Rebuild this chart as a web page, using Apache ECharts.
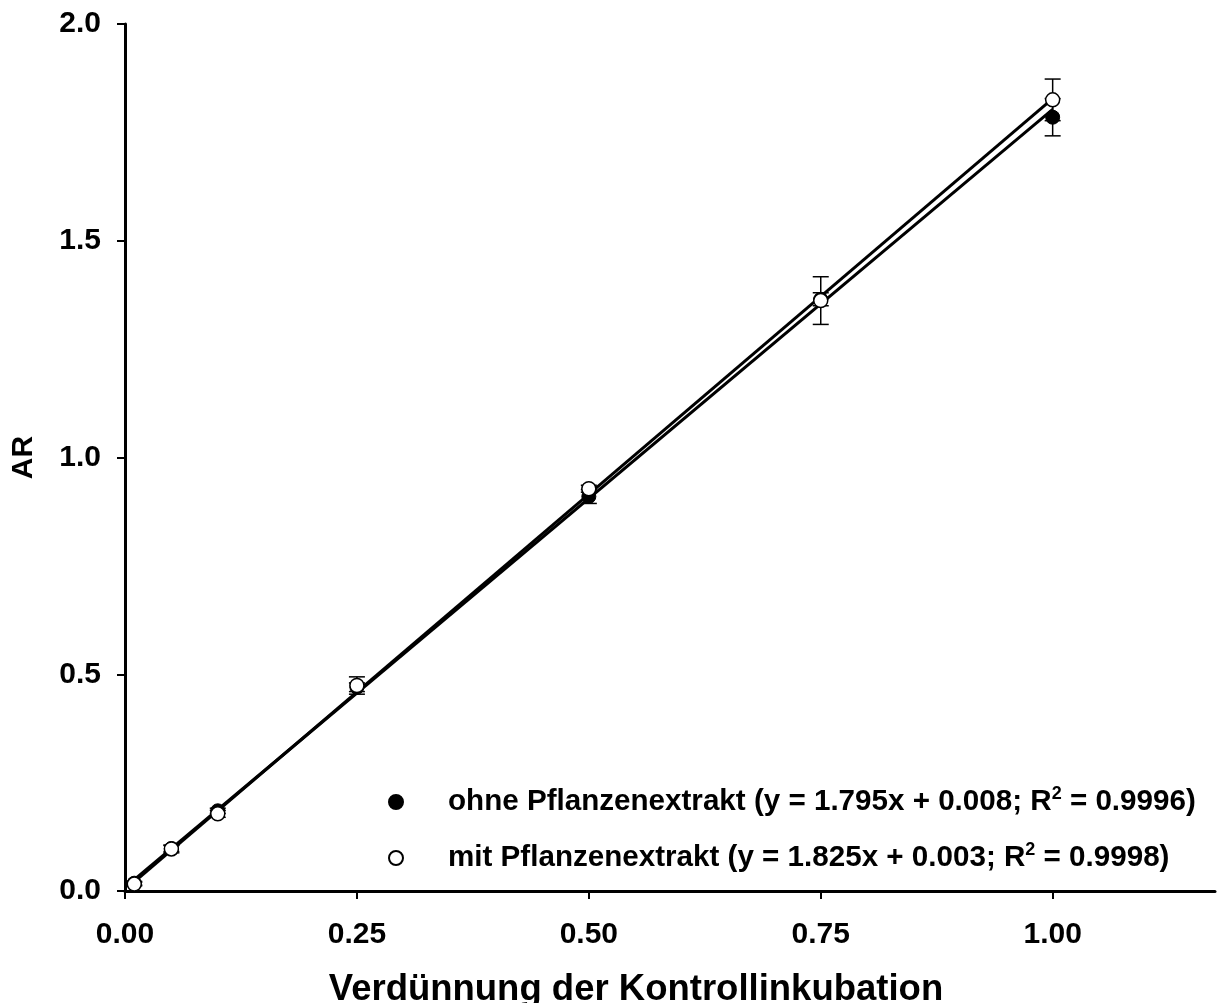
<!DOCTYPE html>
<html>
<head>
<meta charset="utf-8">
<script src="https://cdn.jsdelivr.net/npm/echarts@6/dist/echarts.min.js"></script>
<style>html,body{margin:0;padding:0;background:#fff}#c{width:1222px;height:1003px}</style>
</head>
<body>
<div id="c"></div>
<script>
// Dilution levels (x)
const xValues = [0.01, 0.05, 0.10, 0.25, 0.50, 0.75, 1.00];
// ohne Pflanzenextrakt (filled)
const ohneY  = [0.018, 0.098, 0.185, 0.470, 0.910, 1.365, 1.785];
const ohneSD = [0.004, 0.007, 0.006, 0.010, 0.016, 0.015, 0.043];
// mit Pflanzenextrakt (hollow)
const mitY   = [0.016, 0.097, 0.178, 0.474, 0.928, 1.362, 1.825];
const mitSD  = [0.004, 0.009, 0.008, 0.020, 0.008, 0.055, 0.048];
// regression lines (endpoints as drawn)
const ohneFit = [[0.01, 0.026], [1.00, 1.803]];
const mitFit  = [[0.01, 0.021], [1.00, 1.828]];
// ticks
const xTicks = [0, 0.25, 0.5, 0.75, 1.0];
const yTicks = [0, 0.5, 1.0, 1.5, 2.0];
const legendText = {
  ohne: 'ohne Pflanzenextrakt (y = 1.795x + 0.008; R{sup|2} = 0.9996)',
  mit: 'mit Pflanzenextrakt (y = 1.825x + 0.003; R{sup|2} = 0.9998)'
};

const FONT = '"Liberation Sans", Arial, sans-serif';
const chart = echarts.init(document.getElementById('c'));

function errData(y, sd) {
  return xValues.map((x, i) => [x, y[i] - sd[i], y[i] + sd[i]]);
}
function errSeries(data) {
  return {
    type: 'custom',
    silent: true,
    z: 3,
    data: data,
    renderItem: function (params, api) {
      const x = api.value(0);
      const lo = api.coord([x, api.value(1)]);
      const hi = api.coord([x, api.value(2)]);
      const w = 8;
      return {
        type: 'group',
        children: [
          {type: 'line', shape: {x1: lo[0], y1: lo[1], x2: hi[0], y2: hi[1]}, style: {stroke: '#000', lineWidth: 1.5}},
          {type: 'line', shape: {x1: lo[0] - w, y1: lo[1], x2: lo[0] + w, y2: lo[1]}, style: {stroke: '#000', lineWidth: 1.5}},
          {type: 'line', shape: {x1: hi[0] - w, y1: hi[1], x2: hi[0] + w, y2: hi[1]}, style: {stroke: '#000', lineWidth: 1.5}}
        ]
      };
    }
  };
}

const axisCommon = {
  axisLine: {show: true, lineStyle: {color: '#000', width: 3}},
  axisTick: {show: true, inside: false, length: 8, lineStyle: {color: '#000', width: 2}},
  splitLine: {show: false}
};

chart.setOption({
  animation: false,
  backgroundColor: '#fff',
  grid: {left: 125, right: 7, top: 24, bottom: 112, containLabel: false, outerBoundsMode: 'none'},
  xAxis: Object.assign({}, axisCommon, {
    type: 'value', min: 0, max: 1.175, interval: 0.25,
    name: 'Verdünnung der Kontrollinkubation', nameLocation: 'middle', nameGap: 80,
    nameTextStyle: {fontFamily: FONT, fontWeight: 'bold', fontSize: 36.5, color: '#000', padding: [0, 68, 0, 0]},
    axisTick: Object.assign({}, axisCommon.axisTick, {customValues: xTicks}),
    axisLabel: {customValues: xTicks, margin: 29, fontFamily: FONT, fontWeight: 'bold', fontSize: 30, color: '#000',
      formatter: v => v.toFixed(2)}
  }),
  yAxis: Object.assign({}, axisCommon, {
    type: 'value', min: 0, max: 2, interval: 0.5,
    name: 'AR', nameLocation: 'middle', nameGap: 86, nameRotate: 90,
    nameTextStyle: {fontFamily: FONT, fontWeight: 'bold', fontSize: 30, color: '#000'},
    axisTick: Object.assign({}, axisCommon.axisTick, {customValues: yTicks}),
    axisLabel: {customValues: yTicks, margin: 24, fontFamily: FONT, fontWeight: 'bold', fontSize: 30, color: '#000',
      formatter: v => v.toFixed(1)}
  }),
  legend: {
    data: ['ohne', 'mit'],
    orient: 'vertical',
    left: 383, top: 780,
    itemWidth: 94, itemHeight: 14, itemGap: 22,
    icon: 'circle',
    selectedMode: false,
    formatter: n => legendText[n],
    textStyle: {
      fontFamily: FONT, fontWeight: 'bold', fontSize: 29.6, color: '#000', lineHeight: 34,
      rich: {sup: {fontFamily: FONT, fontWeight: 'bold', fontSize: 18, color: '#000', verticalAlign: 'top', lineHeight: 34, padding: [0, 0, 14, 0]}}
    }
  },
  series: [
    {type: 'line', name: 'fitOhne', data: ohneFit, showSymbol: false, symbol: 'none', z: 2, silent: true,
      lineStyle: {color: '#000', width: 3}},
    {type: 'line', name: 'fitMit', data: mitFit, showSymbol: false, symbol: 'none', z: 2, silent: true,
      lineStyle: {color: '#000', width: 3}},
    errSeries(errData(ohneY, ohneSD)),
    errSeries(errData(mitY, mitSD)),
    {type: 'scatter', name: 'ohne', data: xValues.map((x, i) => [x, ohneY[i]]), symbol: 'circle', symbolSize: 14, z: 4,
      itemStyle: {color: '#000', borderColor: '#000', borderWidth: 1, opacity: 1}},
    {type: 'scatter', name: 'mit', data: xValues.map((x, i) => [x, mitY[i]]), symbol: 'circle', symbolSize: 14, z: 5,
      itemStyle: {color: '#fff', borderColor: '#000', borderWidth: 1.5, opacity: 1}}
  ]
});
</script>
</body>
</html>
